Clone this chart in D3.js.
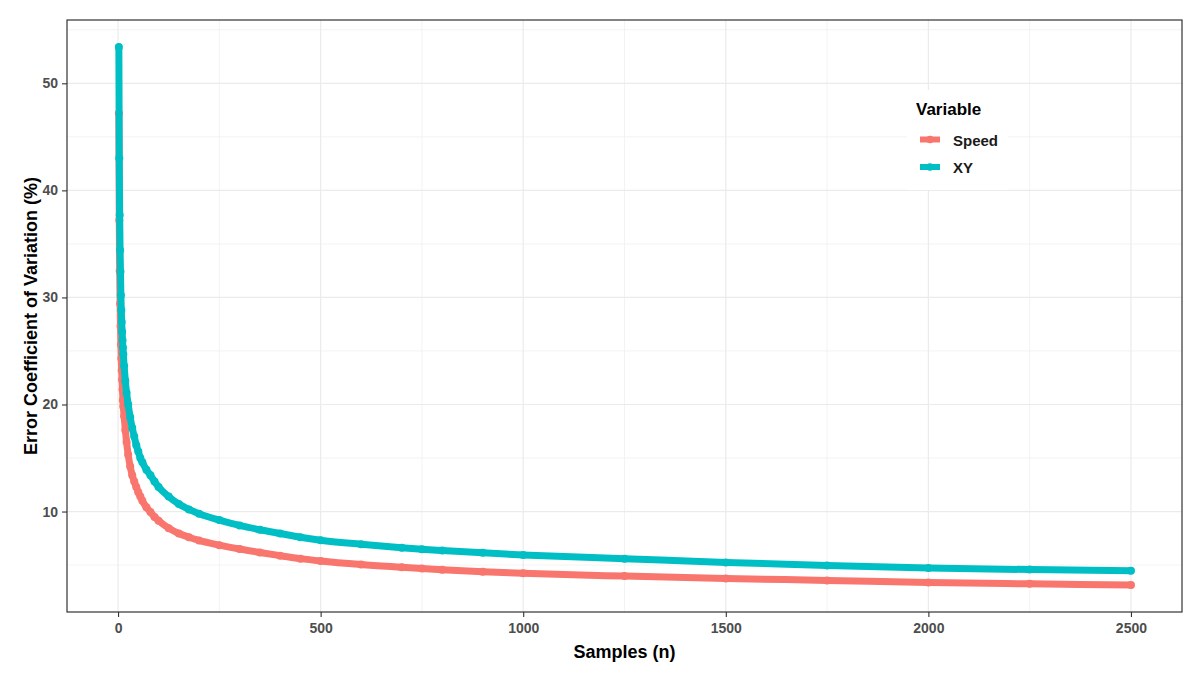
<!DOCTYPE html>
<html lang="en">
<head>
    <meta charset="UTF-8" />
    <title>Error CV vs Samples</title>
    <script src="https://d3js.org/d3.v7.min.js"></script>
    <style>
        body { margin: 0; background: #fff; }
        svg text { font-family: "Liberation Sans", Arial, sans-serif; font-weight: bold; }
    </style>
</head>
<body>
<div id="chart"></div>
<script>
    // Sample sizes and the two series
    var samples = [2, 3, 4, 5, 6, 7, 8, 9, 10, 11, 12, 13, 15, 18, 21, 25, 30, 35, 40, 45, 50, 55, 60, 70, 80, 90, 100,
                   125, 150, 175, 200, 250, 300, 350, 400, 450, 500, 600, 700, 750, 800, 900, 1000,
                   1250, 1500, 1750, 2000, 2250, 2500];
    var speed = [47.2, 37.2, 32.5, 29.4, 27.3, 25.6, 24.3, 23.2, 22.3, 21.4, 20.4, 19.8, 18.9, 17.6, 16.5, 15.3, 14.2, 13.4, 12.8, 12.3, 11.8, 11.4, 11.0, 10.4, 9.95, 9.5, 9.15,
                 8.45, 7.95, 7.6, 7.3, 6.86, 6.5, 6.18, 5.88, 5.6, 5.38, 5.05, 4.8, 4.68, 4.57, 4.38, 4.23,
                 3.97, 3.75, 3.57, 3.37, 3.25, 3.13];
    var xy = [53.4, 43.0, 37.7, 34.4, 32.4, 30.2, 28.8, 27.7, 26.8, 26.0, 25.3, 24.7, 23.6, 22.2, 21.1, 20.0, 18.8, 17.8, 17.0, 16.2, 15.6, 15.0, 14.6, 13.9, 13.4, 12.8, 12.3,
              11.4, 10.7, 10.2, 9.8, 9.2, 8.7, 8.3, 7.95, 7.6, 7.32, 6.95, 6.62, 6.48, 6.36, 6.14, 5.95,
              5.6, 5.25, 4.95, 4.72, 4.58, 4.47];
    var seriesNames = ["Speed", "XY"];
    var seriesColors = ["#F8766D", "#00BFC4"];
    var xTicks = [0, 500, 1000, 1500, 2000, 2500];
    var yTicks = [10, 20, 30, 40, 50];

    var w = 1200, h = 678;
    var margin = {top: 20, right: 18, bottom: 66, left: 67};

    var svg = d3.select("#chart")
        .append("svg")
        .attr("width", w)
        .attr("height", h);

    var series = seriesNames.map(function(name, i) {
        var vals = i === 0 ? speed : xy;
        return {
            name: name,
            color: seriesColors[i],
            points: samples.map(function(n, j) { return {n: n, v: vals[j]}; })
        };
    });

    // ggplot style 5% expansion
    var yExt = d3.extent(speed.concat(xy));
    var yPad = (yExt[1] - yExt[0]) * 0.05;

    var xScale = d3.scaleLinear()
        .domain([-126, 2626])
        .range([margin.left, w - margin.right]);
    var yScale = d3.scaleLinear()
        .domain([yExt[0] - yPad, yExt[1] + yPad])
        .range([h - margin.bottom, margin.top]);

    // Grid lines (minor then major)
    var xMinor = d3.range(250, 2626, 500);
    var yMinor = d3.range(5, 56, 10);
    var grid = svg.append("g");
    grid.selectAll(".xminor").data(xMinor).enter().append("line")
        .attr("x1", function(d) { return xScale(d); }).attr("x2", function(d) { return xScale(d); })
        .attr("y1", margin.top).attr("y2", h - margin.bottom)
        .attr("stroke", "#f0f0f0").attr("stroke-width", 0.8);
    grid.selectAll(".yminor").data(yMinor).enter().append("line")
        .attr("y1", function(d) { return yScale(d); }).attr("y2", function(d) { return yScale(d); })
        .attr("x1", margin.left).attr("x2", w - margin.right)
        .attr("stroke", "#f0f0f0").attr("stroke-width", 0.8);
    grid.selectAll(".xmajor").data(xTicks).enter().append("line")
        .attr("x1", function(d) { return xScale(d); }).attr("x2", function(d) { return xScale(d); })
        .attr("y1", margin.top).attr("y2", h - margin.bottom)
        .attr("stroke", "#ebebeb").attr("stroke-width", 1.2);
    grid.selectAll(".ymajor").data(yTicks).enter().append("line")
        .attr("y1", function(d) { return yScale(d); }).attr("y2", function(d) { return yScale(d); })
        .attr("x1", margin.left).attr("x2", w - margin.right)
        .attr("stroke", "#ebebeb").attr("stroke-width", 1.2);

    // Lines and points
    var line = d3.line()
        .curve(d3.curveMonotoneX)
        .x(function(d) { return xScale(d.n); })
        .y(function(d) { return yScale(d.v); });

    series.forEach(function(s) {
        var g = svg.append("g");
        g.append("path")
            .datum(s.points)
            .attr("d", line)
            .attr("fill", "none")
            .attr("stroke", s.color)
            .attr("stroke-width", 7)
            .attr("stroke-linejoin", "round")
            .attr("stroke-linecap", "round");
        g.selectAll("circle")
            .data(s.points)
            .enter()
            .append("circle")
            .attr("cx", function(d) { return xScale(d.n); })
            .attr("cy", function(d) { return yScale(d.v); })
            .attr("r", 4)
            .attr("fill", s.color);
    });

    // Panel border
    svg.append("rect")
        .attr("x", margin.left).attr("y", margin.top)
        .attr("width", w - margin.left - margin.right)
        .attr("height", h - margin.top - margin.bottom)
        .attr("fill", "none").attr("stroke", "#333333").attr("stroke-width", 1.2);

    // Axes
    var xAxis = svg.append("g")
        .attr("transform", "translate(0," + (h - margin.bottom) + ")")
        .call(d3.axisBottom(xScale).tickValues(xTicks).tickFormat(d3.format("d"))
            .tickSize(5).tickPadding(6).tickSizeOuter(0));
    var yAxis = svg.append("g")
        .attr("transform", "translate(" + margin.left + ",0)")
        .call(d3.axisLeft(yScale).tickValues(yTicks).tickFormat(d3.format("d"))
            .tickSize(5).tickPadding(4).tickSizeOuter(0));
    [xAxis, yAxis].forEach(function(a) {
        a.select(".domain").remove();
        a.selectAll(".tick line").attr("stroke", "#333333").attr("stroke-width", 1.1);
        a.selectAll(".tick text").attr("fill", "#4d4d4d").style("font-size", "14px");
    });

    // Axis titles
    svg.append("text")
        .attr("x", (margin.left + w - margin.right) / 2)
        .attr("y", 658)
        .attr("text-anchor", "middle")
        .style("font-size", "18px")
        .text("Samples (n)");
    svg.append("text")
        .attr("transform", "translate(37," + ((margin.top + h - margin.bottom) / 2) + ") rotate(-90)")
        .attr("text-anchor", "middle")
        .style("font-size", "18px")
        .text("Error Coefficient of Variation (%)");

    // Legend
    var legend = svg.append("g").attr("transform", "translate(907,90)");
    legend.append("rect").attr("width", 101).attr("height", 100).attr("fill", "#fff");
    legend.append("text").attr("x", 9).attr("y", 25).style("font-size", "17px").text("Variable");
    series.forEach(function(s, i) {
        var yy = 49.5 + i * 27.5;
        legend.append("line")
            .attr("x1", 13).attr("x2", 33).attr("y1", yy).attr("y2", yy)
            .attr("stroke", s.color).attr("stroke-width", 6);
        legend.append("circle").attr("cx", 23).attr("cy", yy).attr("r", 3.8).attr("fill", s.color);
        legend.append("text").attr("x", 46).attr("y", yy + 6)
            .style("font-size", "15px").attr("fill", "#1a1a1a").text(s.name);
    });
</script>
</body>
</html>
